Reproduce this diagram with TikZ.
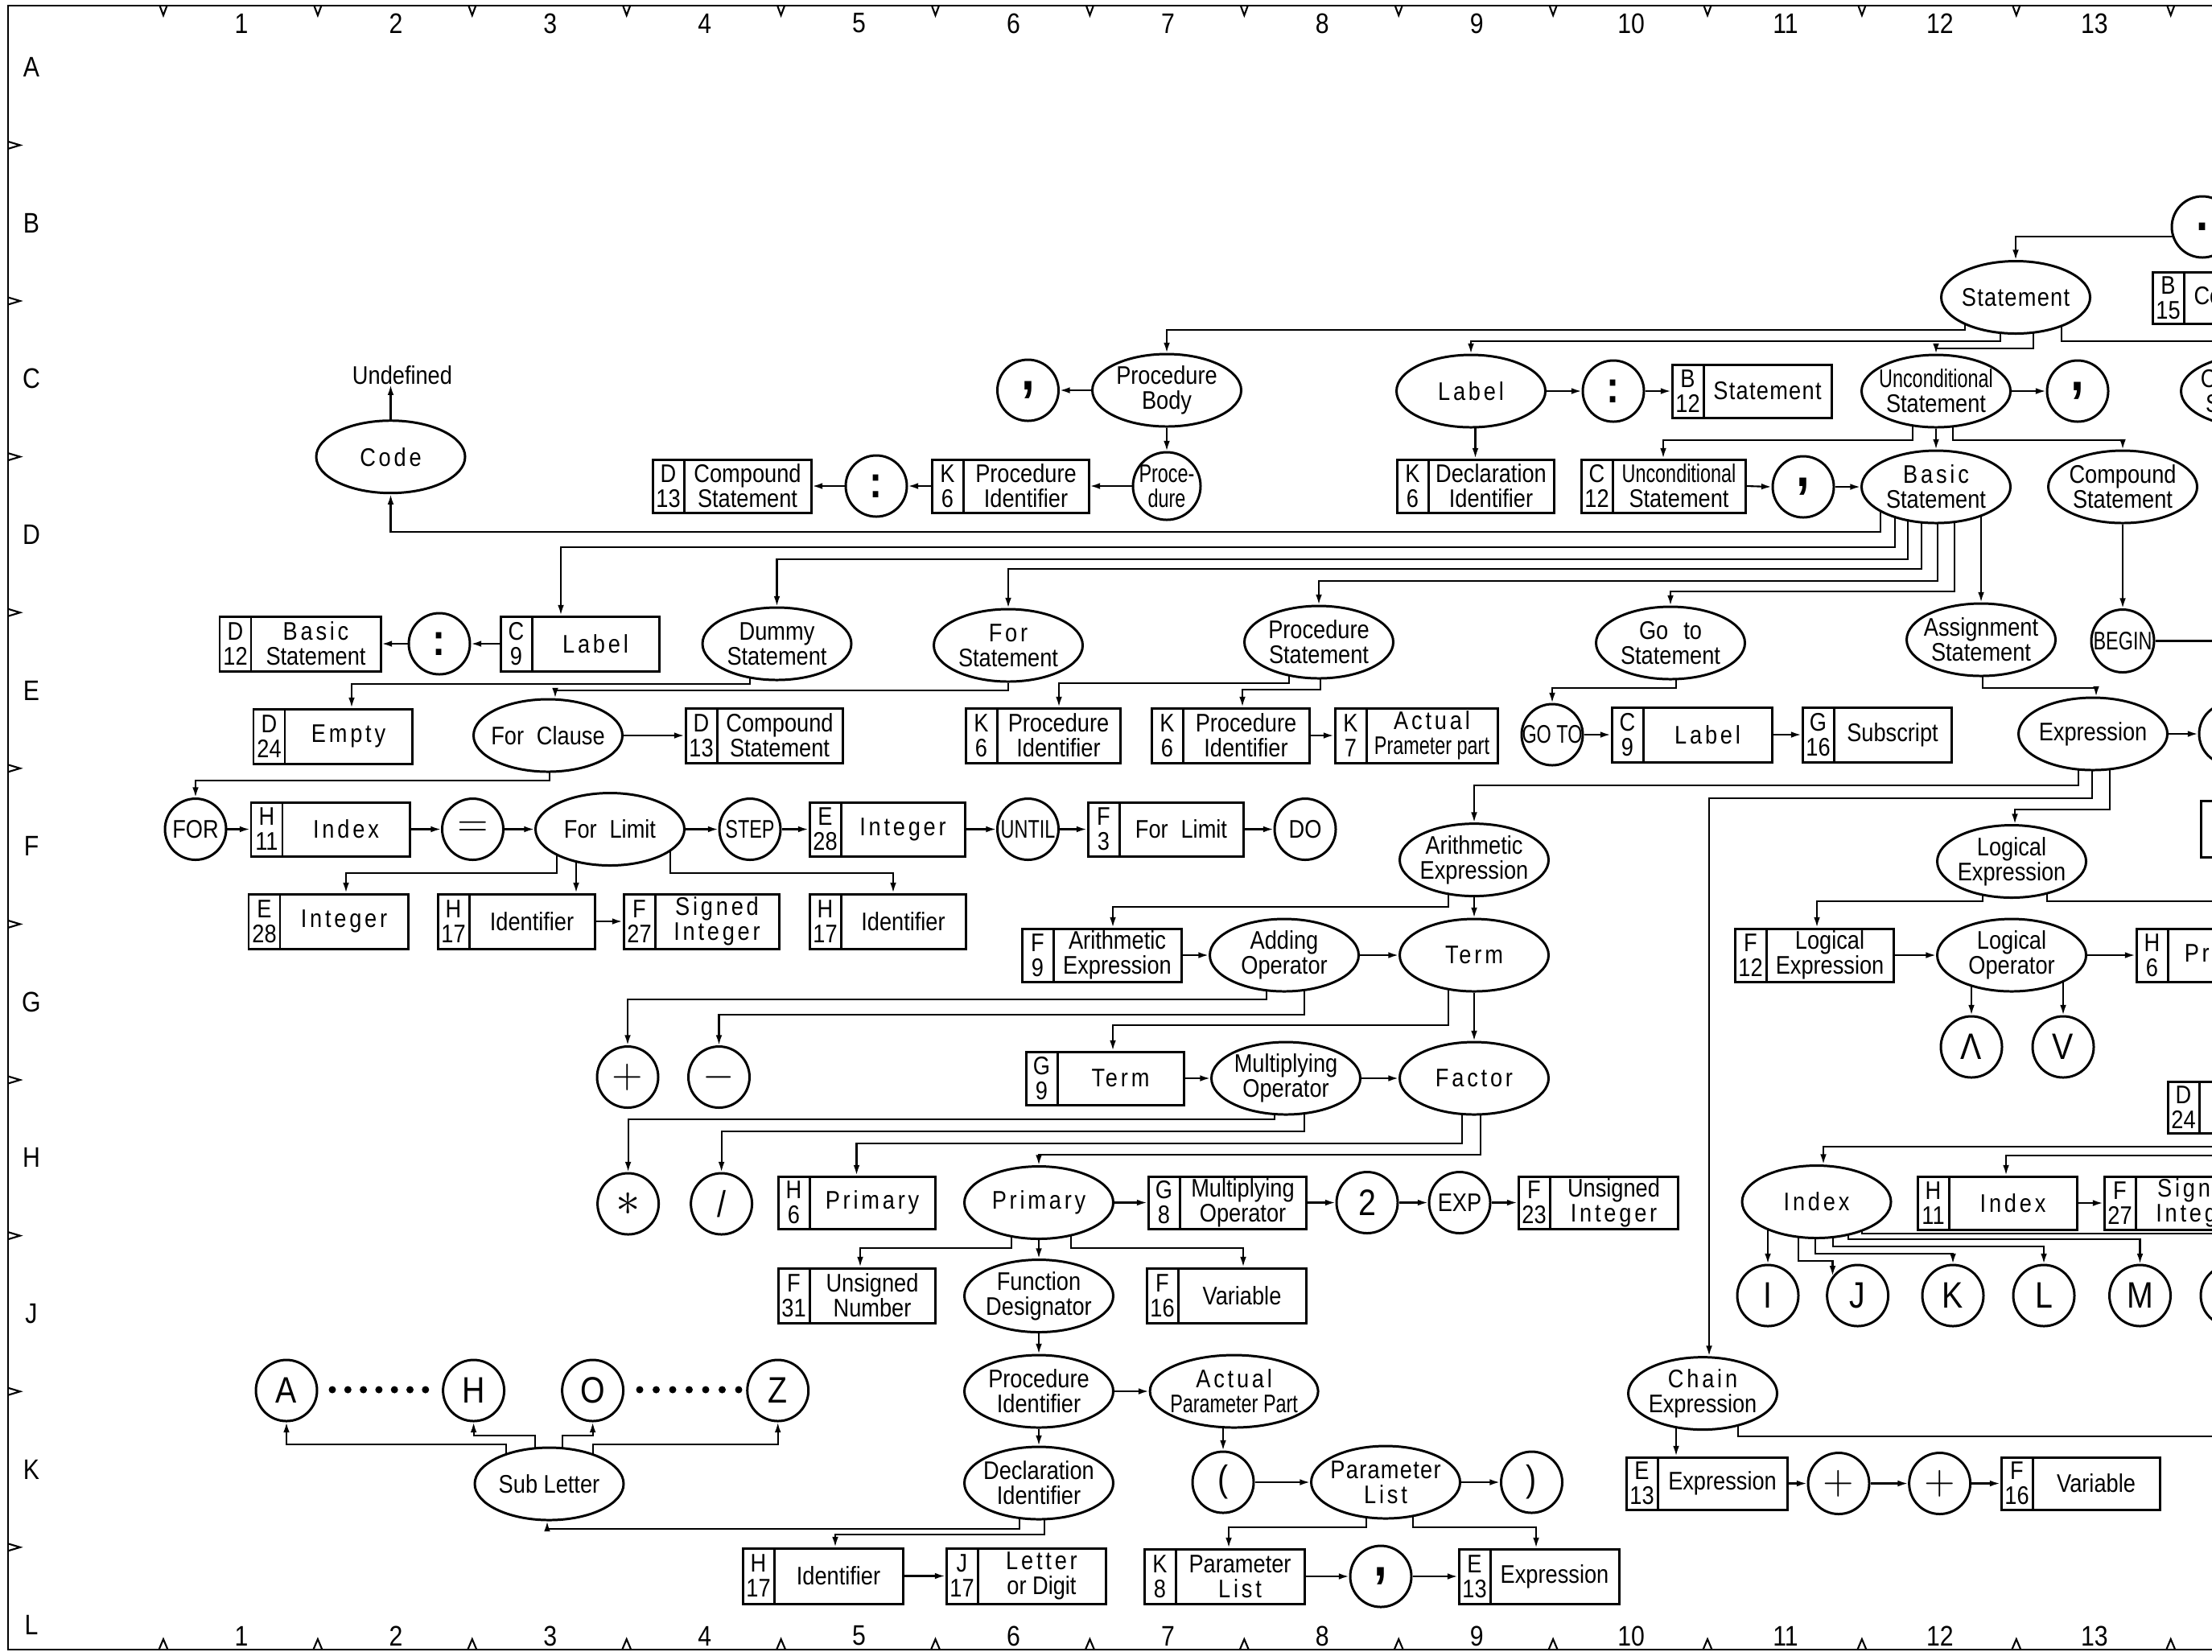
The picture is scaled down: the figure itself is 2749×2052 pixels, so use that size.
\documentclass[tikz,border=0pt]{standalone}
\usepackage{fontspec}
\setmainfont[FakeStretch=0.86]{Liberation Sans}
\newfontfamily\spf[FakeStretch=0.86,LetterSpace=12]{Liberation Sans}
\newfontfamily\slf[FakeStretch=0.86,LetterSpace=4]{Liberation Sans}
\newfontfamily\narf[FakeStretch=0.74]{Liberation Sans}
\usetikzlibrary{arrows.meta,shapes.geometric}
\pgfdeclarelayer{bg}
\pgfsetlayers{bg,main}
\newcommand\lbl{\fontsize{9}{8.8}\selectfont}
\newcommand\sps[1]{{\spf #1}}
\newcommand\sls[1]{{\slf #1}}
\newcommand\nar[1]{{\narf #1}}
\newcommand\cmm{{\fontsize{20}{20}\selectfont\bfseries ,}}
\newcommand\cln{{\fontsize{16}{16}\selectfont\bfseries :}}
\newcommand\bgs[1]{{\fontsize{13}{13}\selectfont #1}}
\newcommand\mth[1]{{\fontsize{15}{15}\selectfont$#1$}}
\newcommand\ElN[5][185]{\node[elp,minimum width={#1*0.1mm}] (#2) at (#3,#4) {};\node[txt] (#2t) at (#2.center) {#5};}
\newcommand\CiN[5][76]{\node[crc,minimum size={#1*0.1mm}] (#2) at (#3,#4) {};\node[txt] (#2t) at (#2.center) {#5};}
\newcommand\BxN[8]{%
  \node[rbx,minimum width={(#3-#2)*0.1mm},minimum height={(#5-#4)*0.1mm}] (#1) at ({(#2+#3)/2},{(#4+#5)/2}) {};
  \draw[dvd] ({#2+39},#4) -- ({#2+39},#5);
  \node[txt] (#1c) at ({#2+19.5},{(#4+#5)/2}) {#6\\#7};
  \node[txt] (#1m) at ({(#2+39+#3)/2},{(#4+#5)/2}) {#8};}
\begin{document}
\begin{tikzpicture}[x=0.1mm,y=-0.1mm,
  shp/.style={draw,line width=0.85pt,fill=white},
  elp/.style={shp,ellipse,inner sep=0pt,minimum height=9mm},
  crc/.style={shp,circle,inner sep=0pt},
  rbx/.style={shp,rectangle,inner sep=0pt},
  dvd/.style={line width=0.85pt},
  txt/.style={align=center,inner sep=0pt,font=\lbl},
  frm/.style={inner sep=0pt,font=\fontsize{10}{10}\selectfont},
  conn/.style={line width=0.6pt},
  arr/.style={conn,-{Latex[length=3.6pt,width=2.2pt]}}]
\useasboundingbox (0,0) rectangle (2749,2052);
\clip (0,0) rectangle (2749,2052);

% ---------- frame ----------
\draw[line width=0.8pt] (2760,7) -- (10,7) -- (10,2050) -- (2760,2050);
\foreach \k in {0,...,13} {
  \draw[conn] ({203+191.9*\k-4.5},7) -- ({203+191.9*\k},19) -- ({203+191.9*\k+4.5},7);
  \draw[conn] ({203+191.9*\k-5.5},2050) -- ({203+191.9*\k},2037) -- ({203+191.9*\k+5.5},2050);}
\foreach \i in {0,...,9}
  \draw[conn] (10,{180.4+193.6*\i-4.5}) -- (25,{180.4+193.6*\i}) -- (10,{180.4+193.6*\i+4.5});
\foreach \n in {1,...,13} {
  \node[frm] (tn\n) at ({300+191.9*(\n-1)},29) {\n};
  \node[frm] (bn\n) at ({300+191.9*(\n-1)},2033) {\n};}
\foreach \l [count=\i from 0] in {A,B,C,D,E,F,G,H,J,K,L}
  \node[frm] (lt\l) at (39,{83.6+193.6*\i}) {\l};

% ---------- rows B/C/D ----------
\CiN{Dot}{2737}{282}{{\fontsize{18}{18}\selectfont\bfseries .}}
\ElN{St}{2505}{369.5}{\sls{Statement}}
\BxN{B15}{2675}{2872}{338}{402}{B}{15}{Compound}
\ElN{CS}{2803}{486}{Conditional\\Statement}
\ElN{Unc}{2406}{486}{\nar{Unconditional}\\Statement}
\CiN{UcC}{2582}{486}{\cmm}
\ElN{Lab}{1828}{486}{\sps{Label}}
\CiN{LbC}{2005}{486}{\cln}
\BxN{B12}{2078}{2276}{453}{519}{B}{12}{\sls{Statement}}
\ElN{PB}{1450}{485}{Procedure\\Body}
\CiN{PBC}{1277.5}{485}{\cmm}
\CiN[84]{PrC}{1450}{604}{\nar{Proce-}\\\nar{dure}}
\BxN{K6p}{1158}{1353}{571}{637}{K}{6}{Procedure\\Identifier}
\CiN{PCl}{1089}{604}{\cln}
\BxN{D13a}{811}{1008}{571}{637}{D}{13}{Compound\\Statement}
\BxN{K6d}{1736}{1931}{571}{637}{K}{6}{Declaration\\Identifier}
\BxN{C12}{1965}{2169}{571}{637}{C}{12}{\nar{Unconditional}\\Statement}
\CiN{BsC}{2241}{605}{\cmm}
\ElN{Bas}{2406}{605}{\sps{Basic}\\Statement}
\ElN{Cmp}{2638}{605}{Compound\\Statement}
\ElN{Code}{485.5}{567.7}{\sps{Code}}
\node[txt] (Und) at (500,466) {Undefined};

% ---------- row E ----------
\BxN{D12}{273}{473}{766}{834}{D}{12}{\sps{Basic}\\Statement}
\CiN{LCl}{546}{800}{\cln}
\BxN{C9a}{622}{819}{766}{834}{C}{9}{\sps{Label}}
\ElN{Dum}{965.5}{800}{Dummy\\Statement}
\ElN{ForS}{1253}{802}{\sps{For}\\Statement}
\ElN{PS}{1639}{798}{Procedure\\Statement}
\ElN{GoS}{2076}{799}{Go\hspace{0.6em}to\\Statement}
\ElN{Asg}{2462}{795}{Assignment\\Statement}
\CiN[78]{Beg}{2638}{796.5}{\nar{BEGIN}}

\BxN{D24a}{315}{512}{881}{949}{D}{24}{\sps{Empty}}
\ElN{FC}{681}{914}{For\enspace Clause}
\BxN{D13b}{852}{1047}{880}{948}{D}{13}{Compound\\Statement}
\BxN{K6q}{1200}{1392}{880}{948}{K}{6}{Procedure\\Identifier}
\BxN{K6r}{1431}{1627}{880}{948}{K}{6}{Procedure\\Identifier}
\BxN{K7}{1659}{1861}{880}{948}{K}{7}{\sps{Actual}\\\nar{Prameter part}}
\CiN{GT}{1929}{913}{\nar{GO TO}}
\BxN{C9b}{2003}{2202}{879}{947}{C}{9}{\sps{Label}}
\BxN{G16}{2240}{2425}{879}{947}{G}{16}{Subscript}
\ElN{Ex}{2601}{912}{Expression}
\CiN{ExR}{2771}{912}{}

% ---------- row F ----------
\CiN{FOR}{243}{1030.5}{FOR}
\BxN{H11a}{312}{509}{997}{1064}{H}{11}{\sps{Index}}
\CiN{Eq}{587.5}{1030.5}{\mth{=}}
\ElN{FL}{758}{1030.5}{For\enspace Limit}
\CiN{STEP}{932}{1030.5}{\nar{STEP}}
\BxN{E28b}{1006}{1199}{997}{1064}{E}{28}{\sps{Integer}}
\CiN{UNT}{1277.5}{1030.5}{\nar{UNTIL}}
\BxN{F3}{1352}{1545}{997}{1064}{F}{3}{For\enspace Limit}
\CiN{DO}{1622}{1030.5}{DO}
\ElN{AE}{1832}{1068.6}{Arithmetic\\Expression}
\ElN{LE}{2500}{1070.5}{Logical\\Expression}
\node[rbx,minimum width=19.7mm,minimum height=7mm] (RB) at (2833.5,1030) {};

\BxN{E28a}{309}{507}{1111}{1179}{E}{28}{\sps{Integer}}
\BxN{H17a}{544}{739}{1111}{1179}{H}{17}{Identifier}
\BxN{F27a}{775}{968}{1111}{1179}{F}{27}{\sps{Signed}\\\sps{Integer}}
\BxN{H17b}{1006}{1200}{1111}{1179}{H}{17}{Identifier}

% ---------- row G ----------
\BxN{F9}{1270}{1468}{1154}{1220}{F}{9}{Arithmetic\\Expression}
\ElN{Ad}{1596}{1187}{Adding\\Operator}
\ElN{Tm}{1832}{1187}{\sps{Term}}
\BxN{F12}{2156}{2353}{1154}{1220}{F}{12}{Logical\\Expression}
\ElN{LO}{2500}{1187}{Logical\\Operator}
\BxN{H6b}{2655}{2852}{1154}{1220}{H}{6}{\sps{Primary}}

\CiN{Pl}{780}{1338.5}{\mth{+}}
\CiN{Mi}{893.5}{1338.5}{\mth{-}}
\BxN{G9}{1275}{1471}{1307}{1373}{G}{9}{\sps{Term}}
\ElN{MO}{1598}{1340}{Multiplying\\Operator}
\ElN{Fa}{1832}{1340}{\sps{Factor}}
\CiN{And}{2450}{1301}{\bgs{Λ}}
\CiN{Or}{2564}{1301}{\bgs{V}}
\BxN{D24b}{2694}{2891}{1344}{1408}{D}{24}{\sps{Empty}}

% ---------- row H ----------
\CiN{Sr}{780.6}{1496}{{\fontsize{18}{18}\selectfont$\ast$}}
\CiN{Sl}{896.6}{1496}{\bgs{/}}
\BxN{H6p}{967}{1162}{1462}{1527}{H}{6}{\sps{Primary}}
\ElN{Pr}{1291}{1494.5}{\sps{Primary}}
\BxN{G8}{1427}{1623}{1462}{1527}{G}{8}{Multiplying\\Operator}
\CiN{Two}{1699}{1494.5}{\bgs{2}}
\CiN{EXP}{1814}{1494.5}{EXP}
\BxN{F23}{1887}{2085}{1462}{1527}{F}{23}{Unsigned\\\sps{Integer}}
\ElN{Idx}{2257.5}{1493.5}{\sps{Index}}
\BxN{H11b}{2383}{2581}{1462}{1528}{H}{11}{\sps{Index}}
\BxN{F27b}{2615}{2812}{1462}{1528}{F}{27}{\sps{Signed}\\\sps{Integer}}

% ---------- row J ----------
\BxN{F31}{967}{1162}{1576}{1644}{F}{31}{Unsigned\\Number}
\ElN{FD}{1291}{1610.5}{Function\\Designator}
\BxN{F16a}{1425}{1623}{1576}{1644}{F}{16}{Variable}
\CiN{I}{2197}{1610}{\bgs{I}}
\CiN{J}{2308.6}{1610}{\bgs{J}}
\CiN{K}{2427}{1610}{\bgs{K}}
\CiN{Lc}{2540}{1610}{\bgs{L}}
\CiN{M}{2659.5}{1610}{\bgs{M}}
\CiN{Nx}{2773}{1610}{}

% ---------- row K ----------
\CiN{A}{356}{1728}{\bgs{A}}
\CiN{Hc}{588.6}{1728}{\bgs{H}}
\CiN{O}{736.6}{1728}{\bgs{O}}
\CiN{Z}{966.7}{1728}{\bgs{Z}}
\foreach \x in {0,...,6} {
  \fill (413+19.3*\x,1727) circle (4.5);
  \fill (795+20.5*\x,1727) circle (4.5);}
\ElN{PI}{1291}{1729}{Procedure\\Identifier}
\ElN[209]{APP}{1533.6}{1729}{\sps{Actual}\\\nar{Parameter Part}}
\ElN{Ch}{2116}{1731.6}{\sps{Chain}\\Expression}

\ElN{SL}{682.5}{1844}{Sub Letter}
\ElN{DI}{1291}{1843}{Declaration\\Identifier}
\CiN{LP}{1520}{1842}{\bgs{(}}
\ElN{PL}{1722}{1842}{\sls{Parameter}\\\sps{List}}
\CiN{RP}{1903.5}{1842}{\bgs{)}}
\BxN{E13b}{2021}{2221}{1811}{1876}{E}{13}{Expression}
\CiN{PA}{2285}{1843.5}{\mth{+}}
\CiN{PB2}{2410.6}{1843.5}{\mth{+}}
\BxN{F16b}{2487}{2684}{1811}{1876}{F}{16}{Variable}

% ---------- row L ----------
\BxN{H17c}{923}{1122}{1924}{1993}{H}{17}{Identifier}
\BxN{J17}{1176}{1374}{1924}{1993}{J}{17}{\sps{Letter}\\or Digit}
\BxN{K8}{1422}{1621}{1925}{1993}{K}{8}{Parameter\\\sps{List}}
\CiN{C3}{1716}{1959}{\cmm}
\BxN{E13a}{1813}{2012}{1925}{1993}{E}{13}{Expression}

\coordinate (eS) at (2760,294);
\coordinate (eB) at (2760,796.5);
\coordinate (eL) at (2760,1120);
\coordinate (eI) at (2760,1425);
\coordinate (eH) at (2760,1436);
\coordinate (eC) at (2760,1785);

% ---------- connectors ----------
\begin{pgfonlayer}{bg}
\clip (0,0) rectangle (2749,2052);
\draw[arr] (eS) -| (St.north);
\draw[arr] (St.center -| 2442,0) -- (2442,410) -| (PB.north);
\draw[arr] (St.center -| 2486,0) -- (2486,424) -| (Lab.north);
\draw[arr] (St.center -| 2527,0) -- (2527,433) -| (Unc.north);
\draw[arr] (St.center -| 2562,0) -- (2562,424) -| (CS.north);
\draw[arr] (Unc.east) -- (UcC.west);
\draw[arr] (Unc.center -| 2377,0) -- (2377,547) -| (C12.north);
\draw[arr] (Unc.south) -- (Bas.north);
\draw[arr] (Unc.center -| 2427,0) -- (2427,547) -| (Cmp.north);
\draw[arr] (Lab.east) -- (LbC.west);
\draw[arr] (LbC.east) -- (B12.west);
\draw[arr] (Lab.center -| K6d.north) -- (K6d.north);
\draw[arr] (C12.east) -- (BsC.west);
\draw[arr] (BsC.east) -- (Bas.west);
\draw[arr] (PB.west) -- (PBC.east);
\draw[arr] (PB.south) -- (PrC.north);
\draw[arr] (PrC.west) -- (K6p.east);
\draw[arr] (K6p.west) -- (PCl.east);
\draw[arr] (PCl.west) -- (D13a.east);
\draw[arr] (Bas.center -| 2337,0) -- (2337,661) -| (Code.south);
\draw[arr] (Code.north) -- (Code.north |- Und.south);
\draw[arr] (Bas.center -| 2355,0) -- (2355,680) -| (C9a.north -| 697,0);
\draw[arr] (C9a.west) -- (LCl.east);
\draw[arr] (LCl.west) -- (D12.east);
\draw[arr] (Bas.center -| 2371,0) -- (2371,695) -| (Dum.north);
\draw[arr] (Bas.center -| 2388,0) -- (2388,707) -| (ForS.north);
\draw[arr] (Bas.center -| 2408,0) -- (2408,722) -| (PS.north);
\draw[arr] (Bas.center -| 2429,0) -- (2429,735) -| (GoS.north);
\draw[arr] (Bas.center -| Asg.north) -- (Asg.north);
\draw[arr] (Cmp.south) -- (Beg.north);
\draw[conn] (Beg.east) -- (eB);
\draw[arr] (Dum.center -| 932,0) -- (932,850) -| (D24a.north -| 437,0);
\draw[arr] (ForS.south) -- (1253,858) -| (FC.north -| 690,0);
\draw[arr] (FC.east) -- (D13b.west);
\draw[arr] (PS.center -| 1602,0) -- (1602,849) -| (K6q.north -| 1316,0);
\draw[arr] (PS.center -| 1641,0) -- (1641,857) -| (K6r.north -| 1544,0);
\draw[arr] (K6r.east) -- (K7.west);
\draw[arr] (GoS.center -| 2083,0) -- (2083,855) -| (GT.north);
\draw[arr] (GT.east) -- (C9b.west);
\draw[arr] (C9b.east) -- (G16.west);
\draw[arr] (Asg.center -| 2464,0) -- (2464,855) -| (Ex.north -| 2605,0);
\draw[arr] (Ex.east) -- (ExR.west);
\draw[arr] (Ex.center -| 2583,0) -- (2583,976) -| (AE.north);
\draw[arr] (Ex.center -| 2600,0) -- (2600,992) -| (Ch.north -| 2124,0);
\draw[arr] (Ex.center -| 2622,0) -- (2622,1006) -| (LE.north -| 2504,0);
\draw[arr] (FC.center -| 683,0) -- (683,970) -| (FOR.north);
\draw[arr] (FOR.east) -- (H11a.west);
\draw[arr] (H11a.east) -- (Eq.west);
\draw[arr] (Eq.east) -- (FL.west);
\draw[arr] (FL.east) -- (STEP.west);
\draw[arr] (STEP.east) -- (E28b.west);
\draw[arr] (E28b.east) -- (UNT.west);
\draw[arr] (UNT.east) -- (F3.west);
\draw[arr] (F3.east) -- (DO.west);
\draw[arr] (FL.center -| 692,0) -- (692,1085) -| (E28a.north -| 430,0);
\draw[arr] (FL.center -| 716,0) -- (H17a.north -| 716,0);
\draw[arr] (FL.center -| 833,0) -- (833,1085) -| (H17b.north -| 1110,0);
\draw[arr] (H17a.east) -- (F27a.west);
\draw[arr] (AE.center -| 1800,0) -- (1800,1127) -| (F9.north -| 1383,0);
\draw[arr] (AE.south) -- (Tm.north);
\draw[arr] (F9.east) -- (Ad.west);
\draw[arr] (Ad.east) -- (Tm.west);
\draw[arr] (Ad.center -| 1574,0) -- (1574,1242) -| (Pl.north);
\draw[arr] (Ad.center -| 1621,0) -- (1621,1261) -| (Mi.north);
\draw[arr] (Tm.center -| 1800,0) -- (1800,1274) -| (G9.north -| 1383,0);
\draw[arr] (Tm.south) -- (Fa.north);
\draw[arr] (G9.east) -- (MO.west);
\draw[arr] (MO.east) -- (Fa.west);
\draw[arr] (MO.center -| 1584,0) -- (1584,1391) -| (Sr.north);
\draw[arr] (MO.center -| 1621,0) -- (1621,1406) -| (Sl.north);
\draw[arr] (Fa.center -| 1817,0) -- (1817,1421) -| (H6p.north);
\draw[arr] (Fa.center -| 1840,0) -- (1840,1435) -| (Pr.north);
\draw[arr] (Pr.east) -- (G8.west);
\draw[arr] (G8.east) -- (Two.west);
\draw[arr] (Two.east) -- (EXP.west);
\draw[arr] (EXP.east) -- (F23.west);
\draw[arr] (Pr.center -| 1257,0) -- (1257,1551) -| (F31.north -| 1069,0);
\draw[arr] (Pr.south) -- (FD.north);
\draw[arr] (Pr.center -| 1331,0) -- (1331,1551) -| (F16a.north -| 1545,0);
\draw[arr] (FD.south) -- (PI.north);
\draw[arr] (PI.south) -- (DI.north);
\draw[arr] (PI.east) -- (APP.west);
\draw[arr] (APP.center -| LP.north) -- (LP.north);
\draw[arr] (LP.east) -- (PL.west);
\draw[arr] (PL.east) -- (RP.west);
\draw[arr] (PL.center -| 1698,0) -- (1698,1898) -| (K8.north -| 1527,0);
\draw[arr] (PL.center -| 1756,0) -- (1756,1898) -| (E13a.north -| 1909,0);
\draw[arr] (K8.east) -- (C3.west);
\draw[arr] (C3.east) -- (E13a.west);
\draw[arr] (DI.center -| 1267,0) -- (1267,1900) -| (SL.south -| 680,0);
\draw[arr] (DI.center -| 1298,0) -- (1298,1907) -| (H17c.north -| 1038,0);
\draw[arr] (H17c.east) -- (J17.west);
\draw[arr] (SL.center -| 629,0) -- (629,1795) -| (A.south);
\draw[arr] (SL.center -| 665,0) -- (665,1784) -| (Hc.south);
\draw[arr] (SL.center -| 699,0) -- (699,1784) -| (O.south);
\draw[arr] (SL.center -| O.south) -- (736.6,1795) -| (Z.south);
\draw[arr] (Ch.center -| 2083,0) -- (E13b.north -| 2083,0);
\draw[conn] (Ch.center -| 2160,0) -- (2160,1785) -- (eC);
\draw[arr] (E13b.east) -- (PA.west);
\draw[arr] (PA.east) -- (PB2.west);
\draw[arr] (PB2.east) -- (F16b.west);
\draw[arr] (LE.center -| 2464,0) -- (2464,1120) -| (F12.north -| 2258,0);
\draw[conn] (LE.center -| 2544,0) -- (2544,1120) -- (eL);
\draw[arr] (F12.east) -- (LO.west);
\draw[arr] (LO.east) -- (H6b.west);
\draw[arr] (LO.center -| And.north) -- (And.north);
\draw[arr] (LO.center -| Or.north) -- (Or.north);
\draw[arr] (eI) -| (Idx.north -| 2266,0);
\draw[arr] (eH) -| (H11b.north -| 2493,0);
\draw[arr] (H11b.east) -- (F27b.west);
\draw[arr] (Idx.center -| I.north) -- (I.north);
\draw[arr] (Idx.center -| 2235,0) -- (2235,1567) -| (J.142);
\draw[arr] (Idx.center -| 2256,0) -- (2256,1558) -| (K.north);
\draw[arr] (Idx.center -| 2278,0) -- (2278,1549) -| (Lc.north);
\draw[arr] (Idx.center -| 2297,0) -- (2297,1540) -| (M.north);
\draw[arr] (Idx.center -| 2314,0) -- (2314,1533) -| (Nx.north);
\end{pgfonlayer}
\end{tikzpicture}
\end{document}
